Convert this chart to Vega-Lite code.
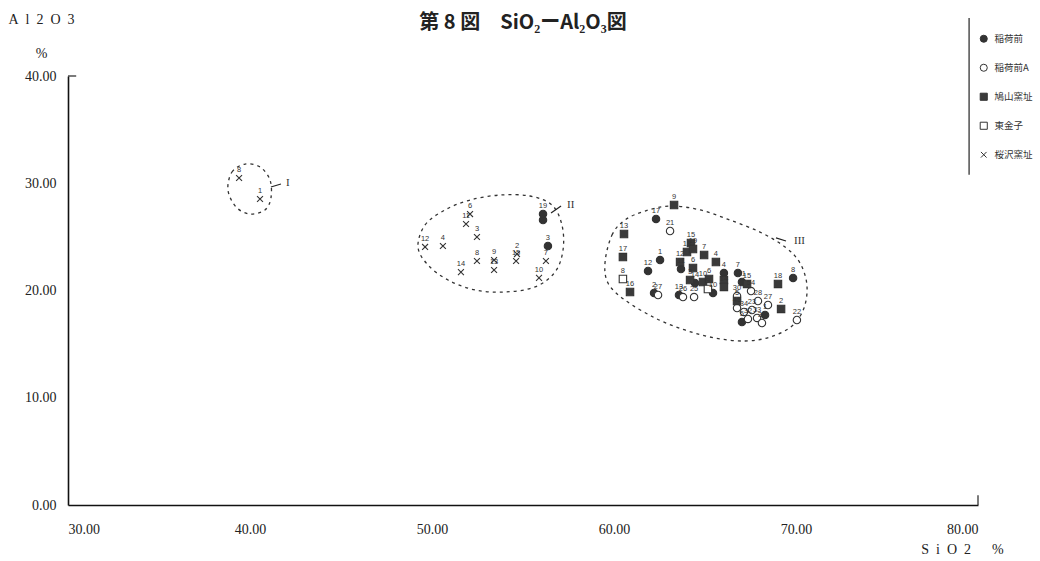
{
  "$schema": "https://vega.github.io/schema/vega-lite/v6.json",
  "width": 910,
  "height": 429,
  "autosize": {"type": "none"},
  "padding": {"top": 76, "left": 68, "right": 62, "bottom": 56},
  "background": "white",
  "title": {"text": "第 8 図　SiO₂ーAl₂O₃図", "font": "Noto Sans CJK JP", "fontSize": 20, "fontWeight": "bold", "color": "#222", "anchor": "middle", "offset": 0, "dy": 21},
  "config": {"view": {"stroke": null}},
  "datasets": {
    "pts": [
      {"series": "桜沢窯址", "label": "8", "SiO2": 39.40, "Al2O3": 30.49},
      {"series": "桜沢窯址", "label": "1", "SiO2": 40.55, "Al2O3": 28.53},
      {"series": "桜沢窯址", "label": "12", "SiO2": 49.62, "Al2O3": 24.06},
      {"series": "桜沢窯址", "label": "4", "SiO2": 50.60, "Al2O3": 24.15},
      {"series": "桜沢窯址", "label": "6", "SiO2": 52.09, "Al2O3": 27.13},
      {"series": "桜沢窯址", "label": "11", "SiO2": 51.87, "Al2O3": 26.20},
      {"series": "桜沢窯址", "label": "3", "SiO2": 52.47, "Al2O3": 24.99},
      {"series": "桜沢窯址", "label": "8", "SiO2": 52.47, "Al2O3": 22.75},
      {"series": "桜沢窯址", "label": "14", "SiO2": 51.59, "Al2O3": 21.72},
      {"series": "桜沢窯址", "label": "9", "SiO2": 53.41, "Al2O3": 22.84},
      {"series": "桜沢窯址", "label": "13", "SiO2": 53.41, "Al2O3": 21.91},
      {"series": "桜沢窯址", "label": "2", "SiO2": 54.67, "Al2O3": 23.40},
      {"series": "桜沢窯址", "label": "15", "SiO2": 54.62, "Al2O3": 22.75},
      {"series": "桜沢窯址", "label": "7", "SiO2": 56.26, "Al2O3": 22.75},
      {"series": "桜沢窯址", "label": "10", "SiO2": 55.88, "Al2O3": 21.17},
      {"series": "稲荷前", "label": "19", "SiO2": 56.10, "Al2O3": 27.13},
      {"series": "稲荷前", "label": "", "SiO2": 56.10, "Al2O3": 26.57},
      {"series": "稲荷前", "label": "3", "SiO2": 56.37, "Al2O3": 24.15},
      {"series": "稲荷前", "label": "17", "SiO2": 62.31, "Al2O3": 26.67},
      {"series": "稲荷前", "label": "1", "SiO2": 62.53, "Al2O3": 22.84},
      {"series": "稲荷前", "label": "12", "SiO2": 61.87, "Al2O3": 21.82},
      {"series": "稲荷前", "label": "11", "SiO2": 63.68, "Al2O3": 22.00},
      {"series": "稲荷前", "label": "2", "SiO2": 62.20, "Al2O3": 19.77},
      {"series": "稲荷前", "label": "13", "SiO2": 63.57, "Al2O3": 19.58},
      {"series": "稲荷前", "label": "14", "SiO2": 64.45, "Al2O3": 20.70},
      {"series": "稲荷前", "label": "10", "SiO2": 65.44, "Al2O3": 19.77},
      {"series": "稲荷前", "label": "4", "SiO2": 66.04, "Al2O3": 21.63},
      {"series": "稲荷前", "label": "7", "SiO2": 66.81, "Al2O3": 21.63},
      {"series": "稲荷前", "label": "11", "SiO2": 67.03, "Al2O3": 20.79},
      {"series": "稲荷前", "label": "5", "SiO2": 67.03, "Al2O3": 17.06},
      {"series": "稲荷前", "label": "1", "SiO2": 68.30, "Al2O3": 17.72},
      {"series": "稲荷前", "label": "8", "SiO2": 69.84, "Al2O3": 21.17},
      {"series": "稲荷前A", "label": "21", "SiO2": 63.08, "Al2O3": 25.55},
      {"series": "稲荷前A", "label": "27", "SiO2": 62.42, "Al2O3": 19.58},
      {"series": "稲荷前A", "label": "26", "SiO2": 63.79, "Al2O3": 19.39},
      {"series": "稲荷前A", "label": "25", "SiO2": 64.40, "Al2O3": 19.39},
      {"series": "稲荷前A", "label": "30", "SiO2": 66.76, "Al2O3": 19.49},
      {"series": "稲荷前A", "label": "54", "SiO2": 67.53, "Al2O3": 19.95},
      {"series": "稲荷前A", "label": "45", "SiO2": 66.76, "Al2O3": 18.37},
      {"series": "稲荷前A", "label": "34", "SiO2": 67.14, "Al2O3": 18.00},
      {"series": "稲荷前A", "label": "23", "SiO2": 67.58, "Al2O3": 18.18},
      {"series": "稲荷前A", "label": "28", "SiO2": 67.91, "Al2O3": 19.02},
      {"series": "稲荷前A", "label": "27", "SiO2": 68.46, "Al2O3": 18.65},
      {"series": "稲荷前A", "label": "33", "SiO2": 67.86, "Al2O3": 17.44},
      {"series": "稲荷前A", "label": "32", "SiO2": 67.36, "Al2O3": 17.35},
      {"series": "稲荷前A", "label": "36", "SiO2": 68.13, "Al2O3": 16.97},
      {"series": "稲荷前A", "label": "22", "SiO2": 70.05, "Al2O3": 17.25},
      {"series": "鳩山窯址", "label": "9", "SiO2": 63.30, "Al2O3": 27.97},
      {"series": "鳩山窯址", "label": "13", "SiO2": 60.55, "Al2O3": 25.27},
      {"series": "鳩山窯址", "label": "17", "SiO2": 60.49, "Al2O3": 23.12},
      {"series": "鳩山窯址", "label": "16", "SiO2": 60.88, "Al2O3": 19.86},
      {"series": "鳩山窯址", "label": "15", "SiO2": 64.23, "Al2O3": 24.43},
      {"series": "鳩山窯址", "label": "18", "SiO2": 64.01, "Al2O3": 23.59},
      {"series": "鳩山窯址", "label": "19", "SiO2": 64.34, "Al2O3": 23.87},
      {"series": "鳩山窯址", "label": "7", "SiO2": 64.95, "Al2O3": 23.31},
      {"series": "鳩山窯址", "label": "12", "SiO2": 63.63, "Al2O3": 22.66},
      {"series": "鳩山窯址", "label": "6", "SiO2": 64.34, "Al2O3": 22.10},
      {"series": "鳩山窯址", "label": "3", "SiO2": 64.18, "Al2O3": 20.98},
      {"series": "鳩山窯址", "label": "10", "SiO2": 64.89, "Al2O3": 20.79},
      {"series": "鳩山窯址", "label": "6", "SiO2": 65.22, "Al2O3": 21.07},
      {"series": "鳩山窯址", "label": "4", "SiO2": 65.60, "Al2O3": 22.66},
      {"series": "鳩山窯址", "label": "1", "SiO2": 66.04, "Al2O3": 20.98},
      {"series": "鳩山窯址", "label": "14", "SiO2": 66.04, "Al2O3": 20.33},
      {"series": "鳩山窯址", "label": "15", "SiO2": 67.31, "Al2O3": 20.61},
      {"series": "鳩山窯址", "label": "18", "SiO2": 69.01, "Al2O3": 20.61},
      {"series": "鳩山窯址", "label": "2", "SiO2": 69.18, "Al2O3": 18.28},
      {"series": "鳩山窯址", "label": "5", "SiO2": 66.76, "Al2O3": 19.02},
      {"series": "東金子", "label": "8", "SiO2": 60.49, "Al2O3": 21.07},
      {"series": "東金子", "label": "9", "SiO2": 65.16, "Al2O3": 20.14}
    ],
    "ell": [
      {"g": "I", "o": 1, "SiO2": 38.79, "Al2O3": 29.37},
      {"g": "I", "o": 2, "SiO2": 39.01, "Al2O3": 31.05},
      {"g": "I", "o": 3, "SiO2": 39.73, "Al2O3": 31.79},
      {"g": "I", "o": 4, "SiO2": 40.55, "Al2O3": 31.52},
      {"g": "I", "o": 5, "SiO2": 41.10, "Al2O3": 30.30},
      {"g": "I", "o": 6, "SiO2": 41.15, "Al2O3": 28.62},
      {"g": "I", "o": 7, "SiO2": 40.82, "Al2O3": 27.51},
      {"g": "I", "o": 8, "SiO2": 40.00, "Al2O3": 27.13},
      {"g": "I", "o": 9, "SiO2": 39.23, "Al2O3": 27.79},
      {"g": "II", "o": 1, "SiO2": 49.23, "Al2O3": 24.06},
      {"g": "II", "o": 2, "SiO2": 49.62, "Al2O3": 26.11},
      {"g": "II", "o": 3, "SiO2": 50.71, "Al2O3": 27.51},
      {"g": "II", "o": 4, "SiO2": 52.09, "Al2O3": 28.44},
      {"g": "II", "o": 5, "SiO2": 53.74, "Al2O3": 28.90},
      {"g": "II", "o": 6, "SiO2": 55.38, "Al2O3": 28.81},
      {"g": "II", "o": 7, "SiO2": 56.59, "Al2O3": 27.97},
      {"g": "II", "o": 8, "SiO2": 57.14, "Al2O3": 26.11},
      {"g": "II", "o": 9, "SiO2": 57.20, "Al2O3": 23.78},
      {"g": "II", "o": 10, "SiO2": 56.76, "Al2O3": 21.72},
      {"g": "II", "o": 11, "SiO2": 55.66, "Al2O3": 20.33},
      {"g": "II", "o": 12, "SiO2": 54.01, "Al2O3": 19.86},
      {"g": "II", "o": 13, "SiO2": 52.36, "Al2O3": 20.05},
      {"g": "II", "o": 14, "SiO2": 50.88, "Al2O3": 20.98},
      {"g": "II", "o": 15, "SiO2": 49.78, "Al2O3": 22.38},
      {"g": "III", "o": 1, "SiO2": 59.51, "Al2O3": 22.66},
      {"g": "III", "o": 2, "SiO2": 59.89, "Al2O3": 25.17},
      {"g": "III", "o": 3, "SiO2": 60.60, "Al2O3": 26.57},
      {"g": "III", "o": 4, "SiO2": 61.70, "Al2O3": 27.41},
      {"g": "III", "o": 5, "SiO2": 63.08, "Al2O3": 27.88},
      {"g": "III", "o": 6, "SiO2": 64.73, "Al2O3": 27.51},
      {"g": "III", "o": 7, "SiO2": 66.37, "Al2O3": 26.57},
      {"g": "III", "o": 8, "SiO2": 68.02, "Al2O3": 25.45},
      {"g": "III", "o": 9, "SiO2": 69.40, "Al2O3": 24.06},
      {"g": "III", "o": 10, "SiO2": 70.22, "Al2O3": 22.56},
      {"g": "III", "o": 11, "SiO2": 70.60, "Al2O3": 20.51},
      {"g": "III", "o": 12, "SiO2": 70.44, "Al2O3": 18.37},
      {"g": "III", "o": 13, "SiO2": 69.78, "Al2O3": 16.69},
      {"g": "III", "o": 14, "SiO2": 68.57, "Al2O3": 15.66},
      {"g": "III", "o": 15, "SiO2": 67.20, "Al2O3": 15.29},
      {"g": "III", "o": 16, "SiO2": 65.55, "Al2O3": 15.57},
      {"g": "III", "o": 17, "SiO2": 63.90, "Al2O3": 16.32},
      {"g": "III", "o": 18, "SiO2": 62.25, "Al2O3": 17.44},
      {"g": "III", "o": 19, "SiO2": 60.60, "Al2O3": 19.11},
      {"g": "III", "o": 20, "SiO2": 59.67, "Al2O3": 20.70}
    ],
    "segs": [
      {"x": 41.15, "y": 29.65, "x2": 41.70, "y2": 29.93},
      {"x": 56.54, "y": 27.23, "x2": 57.09, "y2": 27.88},
      {"x": 68.90, "y": 24.90, "x2": 69.45, "y2": 24.62},
      {"x": 30.0, "y": 40.0, "x2": 30.45, "y2": 40.0},
      {"x": 80.0, "y": 0.0, "x2": 80.0, "y2": 0.9},
      {"x": 79.51, "y": 30.8, "x2": 79.51, "y2": 45.4}
    ],
    "roman": [
      {"t": "I", "SiO2": 41.98, "Al2O3": 30.02},
      {"t": "II", "SiO2": 57.42, "Al2O3": 27.97},
      {"t": "III", "SiO2": 69.89, "Al2O3": 24.62}
    ]
  },
  "layer": [
    {
      "data": {"name": "ell"},
      "mark": {"type": "line", "interpolate": "cardinal-closed", "strokeDash": [3, 4], "stroke": "#333", "strokeWidth": 1.3},
      "encoding": {
        "x": {"field": "SiO2", "type": "quantitative", "scale": {"domain": [30, 80], "nice": false, "zero": false},
          "axis": {"values": [30, 40, 50, 60, 70, 80], "format": ".2f", "ticks": false, "grid": false, "domainColor": "#111", "domainWidth": 1.6,
            "labelFont": "Liberation Serif", "labelFontSize": 14, "labelColor": "#222", "labelPadding": 17,
            "title": "S\u2002i\u2002O\u20022\u2003\u2002%", "titleFont": "Liberation Serif", "titleFontSize": 14, "titleFontWeight": "normal", "titleColor": "#222",
            "titleAnchor": "start", "titleAlign": "center", "titleX": 894, "titleY": 44, "titleBaseline": "middle"}},
        "y": {"field": "Al2O3", "type": "quantitative", "scale": {"domain": [0, 40], "nice": false, "zero": true},
          "axis": {"values": [0, 10, 20, 30, 40], "format": ".2f", "ticks": false, "grid": false, "domainColor": "#111", "domainWidth": 1.6,
            "labelFont": "Liberation Serif", "labelFontSize": 14, "labelColor": "#222", "labelPadding": 12,
            "title": ["A\u2002l\u20022\u2002O\u20023", "%"], "titleFont": "Liberation Serif", "titleFontSize": 14, "titleFontWeight": "normal", "titleColor": "#222",
            "titleAngle": 0, "titleAlign": "center", "titleX": -27, "titleY": -64, "titleBaseline": "top", "titleLineHeight": 34}},
        "detail": {"field": "g"},
        "order": {"field": "o", "type": "quantitative"}
      }
    },
    {
      "data": {"name": "segs"},
      "mark": {"type": "rule", "stroke": "#222", "strokeWidth": 1.2},
      "encoding": {
        "x": {"field": "x", "type": "quantitative"},
        "y": {"field": "y", "type": "quantitative"},
        "x2": {"field": "x2"},
        "y2": {"field": "y2"}
      }
    },
    {
      "data": {"name": "pts"},
      "mark": {"type": "point", "size": 55, "strokeWidth": 1.1, "opacity": 1},
      "encoding": {
        "x": {"field": "SiO2", "type": "quantitative"},
        "y": {"field": "Al2O3", "type": "quantitative"},
        "shape": {"field": "series", "type": "nominal",
          "scale": {"domain": ["稲荷前", "稲荷前A", "鳩山窯址", "東金子", "桜沢窯址"],
            "range": ["circle", "circle", "square", "square", "M-0.8,-0.8L0.8,0.8M-0.8,0.8L0.8,-0.8"]},
          "legend": {"title": null, "orient": "none", "legendX": 911, "legendY": -42, "padding": 0, "rowPadding": 17, "symbolSize": 50,
            "labelFont": "Noto Sans CJK JP", "labelFontSize": 9.5, "labelColor": "#333", "labelOffset": 6, "symbolStrokeWidth": 1}},
        "fill": {"field": "series", "type": "nominal",
          "scale": {"domain": ["稲荷前", "稲荷前A", "鳩山窯址", "東金子", "桜沢窯址"],
            "range": ["#333", "#ffffff", "#3a3a3a", "#ffffff", "transparent"]}},
        "stroke": {"field": "series", "type": "nominal",
          "scale": {"domain": ["稲荷前", "稲荷前A", "鳩山窯址", "東金子", "桜沢窯址"],
            "range": ["#333", "#333", "#333", "#333", "#333"]}}
      }
    },
    {
      "data": {"name": "pts"},
      "mark": {"type": "text", "dy": -8, "fontSize": 7.5, "font": "Liberation Sans", "fill": "#333"},
      "encoding": {
        "x": {"field": "SiO2", "type": "quantitative"},
        "y": {"field": "Al2O3", "type": "quantitative"},
        "text": {"field": "label"}
      }
    },
    {
      "data": {"name": "roman"},
      "mark": {"type": "text", "align": "left", "baseline": "middle", "fontSize": 11, "font": "Liberation Serif", "fill": "#333"},
      "encoding": {
        "x": {"field": "SiO2", "type": "quantitative"},
        "y": {"field": "Al2O3", "type": "quantitative"},
        "text": {"field": "t"}
      }
    }
  ]
}
